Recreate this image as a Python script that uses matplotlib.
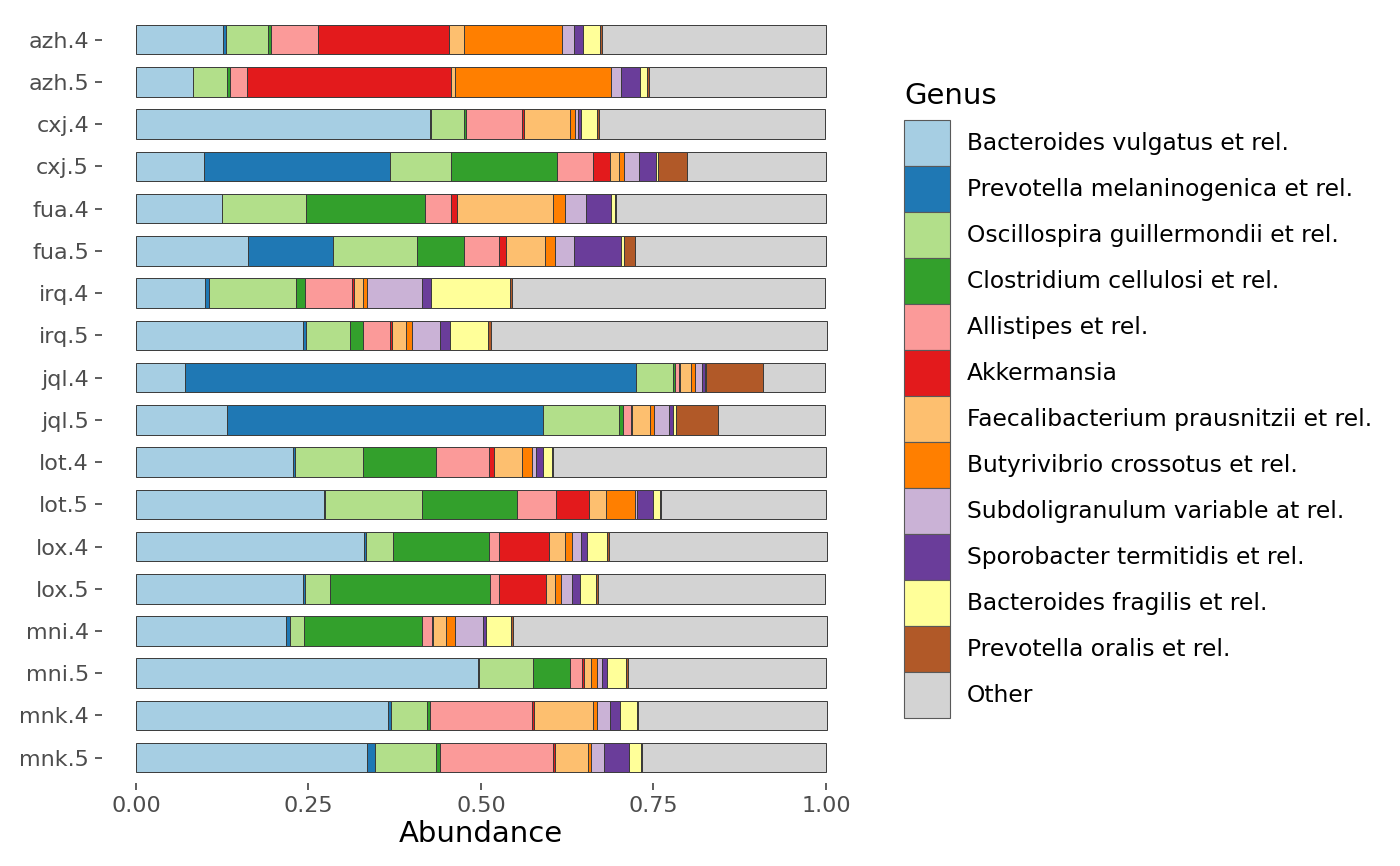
import matplotlib
matplotlib.use("Agg")
import matplotlib.pyplot as plt
from matplotlib.patches import Patch
import numpy as np

samples = ["azh.4", "azh.5", "cxj.4", "cxj.5", "fua.4", "fua.5", "irq.4", "irq.5", "jql.4",
           "jql.5", "lot.4", "lot.5", "lox.4", "lox.5", "mni.4", "mni.5", "mnk.4", "mnk.5"]

genera = ["Bacteroides vulgatus et rel.", "Prevotella melaninogenica et rel.",
          "Oscillospira guillermondii et rel.", "Clostridium cellulosi et rel.",
          "Allistipes et rel.", "Akkermansia", "Faecalibacterium prausnitzii et rel.",
          "Butyrivibrio crossotus et rel.", "Subdoligranulum variable at rel.",
          "Sporobacter termitidis et rel.", "Bacteroides fragilis et rel.",
          "Prevotella oralis et rel.", "Other"]

b_vulgatus = [0.126, 0.082, 0.426, 0.099, 0.124, 0.163, 0.0995, 0.2416, 0.071, 0.132,
              0.2274, 0.2726, 0.330, 0.2416, 0.217, 0.4955, 0.365, 0.3346]
p_melaninogenica = [0.004, 0.001, 0.002, 0.269, 0.001, 0.122, 0.007, 0.005, 0.654, 0.458,
                    0.003, 0.002, 0.003, 0.003, 0.006, 0.002, 0.005, 0.012]
oscillospira = [0.061, 0.049, 0.047, 0.088, 0.121, 0.122, 0.125, 0.063, 0.053, 0.110,
                0.098, 0.140, 0.040, 0.036, 0.021, 0.078, 0.052, 0.088]
clostridium = [0.005, 0.004, 0.003, 0.154, 0.173, 0.069, 0.014, 0.019, 0.003, 0.006,
               0.106, 0.137, 0.139, 0.233, 0.171, 0.054, 0.004, 0.006]
allistipes = [0.068, 0.025, 0.081, 0.052, 0.037, 0.050, 0.068, 0.040, 0.006, 0.011,
              0.077, 0.057, 0.014, 0.012, 0.014, 0.017, 0.148, 0.164]
akkermansia = [0.189, 0.295, 0.003, 0.025, 0.009, 0.011, 0.003, 0.003, 0.001, 0.002,
               0.008, 0.048, 0.072, 0.069, 0.002, 0.003, 0.003, 0.002]
faecalibacterium = [0.022, 0.007, 0.067, 0.013, 0.140, 0.056, 0.013, 0.020, 0.017, 0.026,
                    0.040, 0.025, 0.024, 0.012, 0.018, 0.010, 0.085, 0.048]
butyrivibrio = [0.143, 0.226, 0.008, 0.007, 0.017, 0.015, 0.006, 0.008, 0.005, 0.006,
                0.014, 0.041, 0.010, 0.009, 0.013, 0.008, 0.006, 0.005]
subdoligranulum = [0.017, 0.014, 0.004, 0.022, 0.030, 0.027, 0.079, 0.041, 0.011, 0.021,
                   0.006, 0.004, 0.013, 0.016, 0.041, 0.008, 0.019, 0.018]
sporobacter = [0.013, 0.028, 0.004, 0.025, 0.037, 0.068, 0.013, 0.014, 0.003, 0.007,
               0.010, 0.023, 0.008, 0.012, 0.005, 0.007, 0.015, 0.037]
b_fragilis = [0.024, 0.009, 0.023, 0.003, 0.005, 0.004, 0.114, 0.056, 0.002, 0.004,
              0.013, 0.010, 0.029, 0.023, 0.035, 0.028, 0.024, 0.017]
p_oralis = [0.003, 0.003, 0.003, 0.041, 0.001, 0.016, 0.004, 0.004, 0.083, 0.061,
            0.002, 0.002, 0.003, 0.003, 0.003, 0.003, 0.002, 0.002]
other = [0.325, 0.257, 0.328, 0.202, 0.305, 0.2765, 0.4535, 0.487, 0.090, 0.154,
         0.395, 0.239, 0.316, 0.3295, 0.455, 0.287, 0.273, 0.266]

series = [b_vulgatus, p_melaninogenica, oscillospira, clostridium, allistipes, akkermansia,
          faecalibacterium, butyrivibrio, subdoligranulum, sporobacter, b_fragilis, p_oralis, other]

colors = ["#A6CEE3", "#1F78B4", "#B2DF8A", "#33A02C", "#FB9A99", "#E31A1C", "#FDBF6F",
          "#FF7F00", "#CAB2D6", "#6A3D9A", "#FFFF99", "#B15928", "#D3D3D3"]

fig = plt.figure(figsize=(14, 8.66), dpi=100)
ax = fig.add_axes([0.0725, 0.0958, 0.5421, 0.8876])

y = np.arange(len(samples))
left = np.zeros(len(samples))
for vals, col, name in zip(series, colors, genera):
    vals = np.array(vals)
    ax.barh(y, vals, left=left, height=0.7, color=col, edgecolor="#3a3a3a",
            linewidth=0.7, label=name)
    left += vals

ax.set_xlim(-0.05, 1.05)
ax.set_ylim(len(samples) - 0.4, -0.6)
ax.set_yticks(y)
ax.set_yticklabels(samples)
ax.set_xticks([0, 0.25, 0.5, 0.75, 1.0])
ax.set_xticklabels(["0.00", "0.25", "0.50", "0.75", "1.00"])
ax.tick_params(axis="both", labelsize=16, labelcolor="#4D4D4D", color="#333333",
               length=5, width=1.1, pad=4)
for s in ax.spines.values():
    s.set_visible(False)
ax.set_xlabel("Abundance", fontsize=21, labelpad=3)

# legend keys stacked with no gap, like ggplot
handles = [Patch(facecolor=c, edgecolor="#595959", linewidth=0.8) for c in colors]
leg = fig.legend(handles, genera, loc="upper left", bbox_to_anchor=(904 / 1400, 1 - 82 / 866),
                 frameon=False, fontsize=16.8, title="Genus", title_fontsize=21,
                 alignment="left", handlelength=1.99, handleheight=2.656,
                 handletextpad=0.72, labelspacing=0, borderpad=0, borderaxespad=0)
leg._legend_box.sep = 7.5

fig.savefig("out.png", dpi=100)
